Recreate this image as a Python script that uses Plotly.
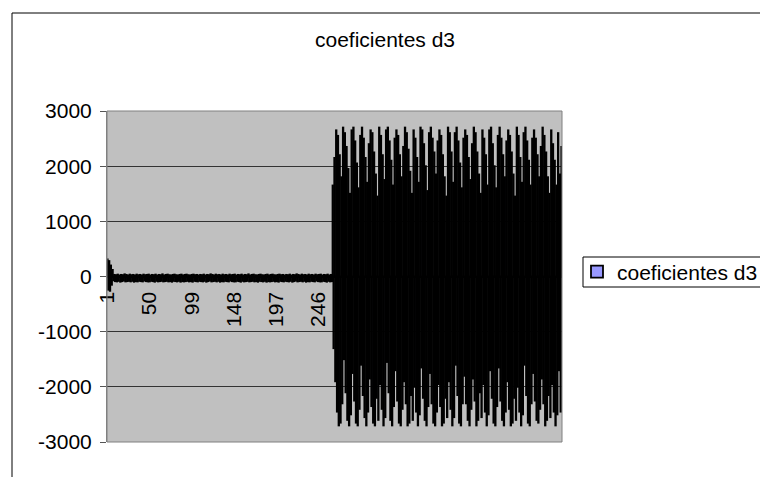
import plotly.graph_objects as go

title_text = "coeficientes d3"
series_name = "coeficientes d3"

initial_values = [310, -240, 280, -260, 200, -150, 120, -70]

quiet_values = [
    30, -85, 25, -90, 35, -80, 20, -95, 30, -85, 25, -75, 40, -90, 30, -85, 20, -80, 35, -90,
    25, -80, 30, -95, 20, -85, 35, -90, 25, -80, 30, -85, 20, -90, 35, -75, 25, -85, 30, -90,
    35, -90, 20, -80, 30, -85, 25, -95, 35, -80, 20, -90, 30, -85, 25, -80, 40, -90, 20, -85,
    30, -80, 35, -90, 25, -85, 20, -95, 30, -80, 35, -85, 25, -90, 20, -80, 30, -95, 35, -85,
    20, -90, 30, -85, 35, -80, 25, -90, 20, -85, 30, -95, 35, -80, 25, -85, 30, -90, 20, -80,
    30, -85, 25, -90, 35, -80, 20, -95, 30, -85, 25, -75, 40, -90, 30, -85, 20, -80, 35, -90,
    25, -80, 30, -95, 20, -85, 35, -90, 25, -80, 30, -85, 20, -90, 35, -75, 25, -85, 30, -90,
    35, -90, 20, -80, 30, -85, 25, -95, 35, -80, 20, -90, 30, -85, 25, -80, 40, -90, 20, -85,
    30, -80, 35, -90, 25, -85, 20, -95, 30, -80, 35, -85, 25, -90, 20, -80, 30, -95, 35, -85,
    20, -90, 30, -85, 35, -80, 25, -90, 20, -85, 30, -95, 35, -80, 25, -85, 30, -90, 20, -80,
    30, -85, 25, -90, 35, -80, 20, -95, 30, -85, 25, -75, 40, -90, 30, -85, 20, -80, 35, -90,
    25, -80, 30, -95, 20, -85, 35, -90, 25, -80, 30, -85, 20, -90, 35, -75, 25, -85, 30, -90,
    35, -90, 20, -80, 30, -85, 25, -95, 35, -80, 20, -90, 30, -85,
]

burst_values = [
    1650, -1300, 2150, -1900, 2650, -2450, 2550, -2700, 2200, -2650, 1800, -2300, 2700, -1500, 2600, -2100, 2350, -2600, 1950, -2700,
    1500, -2500, 2650, -1750, 2700, -2250, 2450, -2650, 2050, -2700, 1600, -2400, 2550, -1600, 2700, -2150, 2500, -2550, 2150, -2700,
    1700, -2450, 2400, -1850, 2650, -2350, 2600, -2650, 2250, -2700, 1850, -2200, 1450, -2600, 2700, -1950, 2550, -2400, 2200, -2700,
    1750, -2550, 2650, -1550, 2700, -2100, 2450, -2600, 2100, -2700, 1650, -2350, 2500, -1700, 2650, -2250, 2550, -2650, 2200, -2700,
    1800, -2400, 2350, -1900, 2700, -2300, 2600, -2700, 2300, -2650, 1900, -2150, 1500, -2600, 2650, -2000, 2500, -2450, 2150, -2700,
    1700, -2500, 2700, -1650, 2650, -2200, 2400, -2600, 2000, -2700, 1550, -2350, 2600, -1750, 2700, -2300, 2500, -2650, 2250, -2700,
    1850, -2450, 2450, -1950, 2650, -2350, 2550, -2700, 2200, -2650, 1800, -2200, 1450, -2550, 2700, -1900, 2600, -2400, 2250, -2700,
    1700, -2550, 2600, -1600, 2700, -2150, 2450, -2650, 2050, -2700, 1600, -2300, 2500, -1800, 2650, -2300, 2550, -2600, 2150, -2700,
    1750, -2400, 2400, -1850, 2700, -2250, 2600, -2700, 2250, -2600, 1850, -2100, 1500, -2550, 2650, -1950, 2500, -2450, 2200, -2700,
    1650, -2500, 2650, -1700, 2700, -2200, 2400, -2650, 2000, -2700, 1600, -2350, 2550, -1650, 2700, -2250, 2500, -2600, 2200, -2700,
    1800, -2450, 2450, -1900, 2650, -2400, 2550, -2700, 2250, -2650, 1850, -2200, 1450, -2600, 2700, -2000, 2550, -2450, 2150, -2700,
    1700, -2500, 2600, -1600, 2700, -2150, 2450, -2650, 2100, -2700, 1650, -2300, 2500, -1750, 2650, -2250, 2500, -2600, 2200, -2650,
    1800, -2400, 2350, -1850, 2700, -2300, 2550, -2700, 2250, -2600, 1800, -2150, 1500, -2550, 2650, -1950, 2400, -2450, 2100, -2700,
    1650, -2500, 2600, -1700, 1850, -2450, 2350,
]

values = initial_values + quiet_values + burst_values
categories = list(range(1, len(values) + 1))

x_tick_vals = [1, 50, 99, 148, 197, 246]
x_tick_text = ["1", "50", "99", "148", "197", "246"]
y_tick_vals = [-3000, -2000, -1000, 0, 1000, 2000, 3000]
y_tick_text = ["-3000", "-2000", "-1000", "0", "1000", "2000", "3000"]

FONT = "Liberation Sans, Arial, sans-serif"

fig = go.Figure()
fig.add_trace(go.Bar(
    x=categories, y=values, name=series_name,
    marker=dict(color="#9999FF", line=dict(color="black", width=1.8)),
    showlegend=True,
))

W, H = 760, 477
L, R, T, B = 107, 198, 111, 35
pw = W - L - R
ph = H - T - B

def px_x(p):
    return (p - L) / pw

def px_y(p):
    return (H - B - p) / ph

fig.update_layout(
    width=W, height=H,
    margin=dict(l=L, r=R, t=T, b=B, pad=0, autoexpand=False),
    paper_bgcolor="white",
    plot_bgcolor="#C0C0C0",
    bargap=0.4,
    font=dict(family=FONT, size=21, color="black"),
    title=dict(text=title_text, x=385 / W, xanchor="center",
               y=1 - 40 / H, yanchor="middle", font=dict(size=21)),
    showlegend=True,
    legend=dict(x=px_x(577), y=px_y(272), xanchor="left", yanchor="middle",
                borderwidth=0, bgcolor="rgba(0,0,0,0)",
                font=dict(size=21)),
    xaxis=dict(
        range=[0.5, len(values) + 0.5],
        tickmode="array", tickvals=x_tick_vals, ticktext=x_tick_text,
        tickangle=-90, anchor="free", position=0.5,
        showline=True, linecolor="black", linewidth=1,
        ticks="", showgrid=False, zeroline=False,
        ticklabelstandoff=6,
    ),
    yaxis=dict(
        range=[-3000, 3000], tickmode="array", tickvals=y_tick_vals, ticktext=y_tick_text,
        showgrid=True, gridcolor="#333333", gridwidth=1,
        showline=True, linecolor="#808080", linewidth=1,
        ticks="outside", ticklen=6, tickcolor="#555555",
        zeroline=False, ticklabelstandoff=4,
    ),
    shapes=[
        dict(type="rect", xref="x domain", yref="y domain", x0=0, x1=1, y0=0, y1=1,
             line=dict(color="#808080", width=1), fillcolor="rgba(0,0,0,0)"),
        dict(type="rect", xref="paper", yref="paper",
             x0=px_x(12), x1=px_x(800), y0=px_y(520), y1=px_y(13),
             line=dict(color="black", width=1), fillcolor="rgba(0,0,0,0)"),
        dict(type="rect", xref="paper", yref="paper",
             x0=px_x(583), x1=px_x(800), y0=px_y(287), y1=px_y(257),
             line=dict(color="black", width=1), fillcolor="rgba(0,0,0,0)"),
    ],
)

fig.write_html("out.html")
